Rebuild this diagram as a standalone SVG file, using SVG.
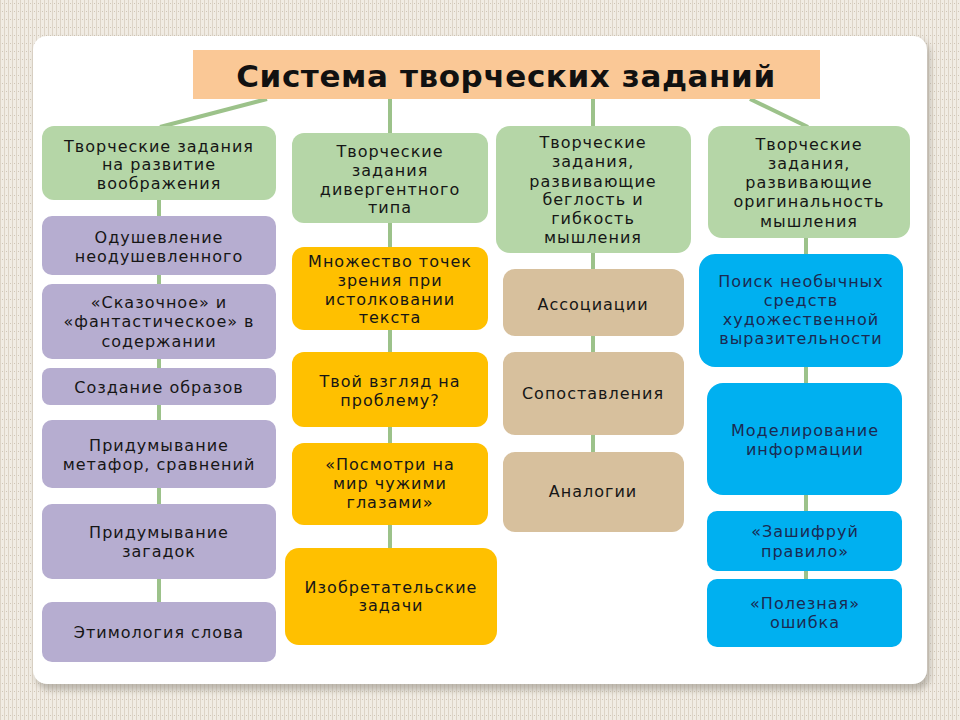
<svg xmlns="http://www.w3.org/2000/svg" width="960" height="720" viewBox="0 0 960 720">
<defs>
<pattern id="stripes" width="4" height="8" patternUnits="userSpaceOnUse">
<rect width="4" height="8" fill="#f1ece4"/>
<rect x="0" y="0" width="1" height="8" fill="#ddd4c7"/>
<rect x="2" y="3" width="1" height="1" fill="#cfc5b6"/>
</pattern>
<filter id="sh" x="-5%" y="-5%" width="110%" height="110%">
<feGaussianBlur stdDeviation="3"/>
</filter>
</defs>
<style>
.t{font-family:"DejaVu Sans",Verdana,sans-serif;font-size:16px;fill:#161616;text-anchor:middle;letter-spacing:1px}
.tb{fill:#1b2a52}
.title{font-family:"DejaVu Sans",Verdana,sans-serif;font-size:31px;font-weight:bold;fill:#111;text-anchor:middle;letter-spacing:0.6px}
.c{stroke:#9cc28a;stroke-width:4;fill:none}
.g{fill:#b5d6a7}
.p{fill:#b6add0}
.o{fill:#ffc000}
.n{fill:#d7c09d}
.b{fill:#00b0f0}
</style>
<rect width="960" height="720" fill="url(#stripes)"/>
<rect x="36" y="40" width="894" height="650" rx="14" fill="#9a948a" opacity="0.6" filter="url(#sh)"/>
<rect x="33" y="36" width="894" height="648" rx="14" fill="#ffffff"/>

<g id="connectors">
<line class="c" x1="267" y1="99" x2="160" y2="127"/>
<line class="c" x1="390" y1="99" x2="390" y2="134"/>
<line class="c" x1="593" y1="99" x2="593" y2="127"/>
<line class="c" x1="750" y1="99" x2="808" y2="127"/>
<line class="c" x1="159" y1="200" x2="159" y2="602"/>
<line class="c" x1="390" y1="223" x2="390" y2="548"/>
<line class="c" x1="593" y1="253" x2="593" y2="452"/>
<line class="c" x1="806" y1="238" x2="806" y2="646"/>
</g>

<g id="title">
<rect x="193" y="50" width="627" height="49" fill="#fac896"/>
<text class="title" x="506" y="87">Система творческих заданий</text>
</g>

<g id="h1">
<rect class="g" x="42" y="126" width="234" height="74" rx="12"/>
<text class="t" x="159" y="152">Творческие задания</text>
<text class="t" x="159" y="170">на развитие</text>
<text class="t" x="159" y="189">воображения</text>
</g>
<g id="h2">
<rect class="g" x="292" y="133" width="196" height="90" rx="12"/>
<text class="t" x="390" y="157">Творческие</text>
<text class="t" x="390" y="176">задания</text>
<text class="t" x="390" y="195">дивергентного</text>
<text class="t" x="390" y="213">типа</text>
</g>
<g id="h3">
<rect class="g" x="496" y="126" width="195" height="127" rx="14"/>
<text class="t" x="593" y="148">Творческие</text>
<text class="t" x="593" y="167">задания,</text>
<text class="t" x="593" y="187">развивающие</text>
<text class="t" x="593" y="205">беглость и</text>
<text class="t" x="593" y="224">гибкость</text>
<text class="t" x="593" y="243">мышления</text>
</g>
<g id="h4">
<rect class="g" x="708" y="126" width="202" height="112" rx="14"/>
<text class="t" x="809" y="150">Творческие</text>
<text class="t" x="809" y="169">задания,</text>
<text class="t" x="809" y="188">развивающие</text>
<text class="t" x="809" y="207">оригинальность</text>
<text class="t" x="809" y="227">мышления</text>
</g>

<g id="p1">
<rect class="p" x="42" y="216" width="234" height="59" rx="10"/>
<text class="t" x="159" y="243">Одушевление</text>
<text class="t" x="159" y="262">неодушевленного</text>
</g>
<g id="p2">
<rect class="p" x="42" y="284" width="234" height="75" rx="10"/>
<text class="t" x="159" y="308">«Сказочное» и</text>
<text class="t" x="159" y="327">«фантастическое» в</text>
<text class="t" x="159" y="347">содержании</text>
</g>
<g id="p3">
<rect class="p" x="42" y="368" width="234" height="37" rx="8"/>
<text class="t" x="159" y="393">Создание образов</text>
</g>
<g id="p4">
<rect class="p" x="42" y="420" width="234" height="68" rx="10"/>
<text class="t" x="159" y="451">Придумывание</text>
<text class="t" x="159" y="470">метафор, сравнений</text>
</g>
<g id="p5">
<rect class="p" x="42" y="504" width="234" height="75" rx="10"/>
<text class="t" x="159" y="538">Придумывание</text>
<text class="t" x="159" y="557">загадок</text>
</g>
<g id="p6">
<rect class="p" x="42" y="602" width="234" height="60" rx="10"/>
<text class="t" x="159" y="638">Этимология слова</text>
</g>

<g id="o1">
<rect class="o" x="292" y="247" width="196" height="83" rx="12"/>
<text class="t" x="390" y="267">Множество точек</text>
<text class="t" x="390" y="286">зрения при</text>
<text class="t" x="390" y="305">истолковании</text>
<text class="t" x="390" y="323">текста</text>
</g>
<g id="o2">
<rect class="o" x="292" y="352" width="196" height="75" rx="12"/>
<text class="t" x="390" y="387">Твой взгляд на</text>
<text class="t" x="390" y="406">проблему?</text>
</g>
<g id="o3">
<rect class="o" x="292" y="443" width="196" height="82" rx="12"/>
<text class="t" x="390" y="470">«Посмотри на</text>
<text class="t" x="390" y="489">мир чужими</text>
<text class="t" x="390" y="508">глазами»</text>
</g>
<g id="o4">
<rect class="o" x="285" y="548" width="212" height="97" rx="14"/>
<text class="t" x="391" y="593">Изобретательские</text>
<text class="t" x="391" y="611">задачи</text>
</g>

<g id="n1">
<rect class="n" x="503" y="269" width="181" height="67" rx="12"/>
<text class="t" x="593" y="310">Ассоциации</text>
</g>
<g id="n2">
<rect class="n" x="503" y="352" width="181" height="83" rx="12"/>
<text class="t" x="593" y="399">Сопоставления</text>
</g>
<g id="n3">
<rect class="n" x="503" y="452" width="181" height="80" rx="12"/>
<text class="t" x="593" y="497">Аналогии</text>
</g>

<g id="b1">
<rect class="b" x="699" y="254" width="204" height="113" rx="16"/>
<text class="t tb" x="801" y="287">Поиск необычных</text>
<text class="t tb" x="801" y="306">средств</text>
<text class="t tb" x="801" y="325">художественной</text>
<text class="t tb" x="801" y="344">выразительности</text>
</g>
<g id="b2">
<rect class="b" x="707" y="383" width="195" height="112" rx="16"/>
<text class="t tb" x="805" y="436">Моделирование</text>
<text class="t tb" x="805" y="455">информации</text>
</g>
<g id="b3">
<rect class="b" x="707" y="511" width="195" height="60" rx="10"/>
<text class="t tb" x="805" y="537">«Зашифруй</text>
<text class="t tb" x="805" y="557">правило»</text>
</g>
<g id="b4">
<rect class="b" x="707" y="579" width="195" height="68" rx="10"/>
<text class="t tb" x="805" y="609">«Полезная»</text>
<text class="t tb" x="805" y="628">ошибка</text>
</g>
</svg>
